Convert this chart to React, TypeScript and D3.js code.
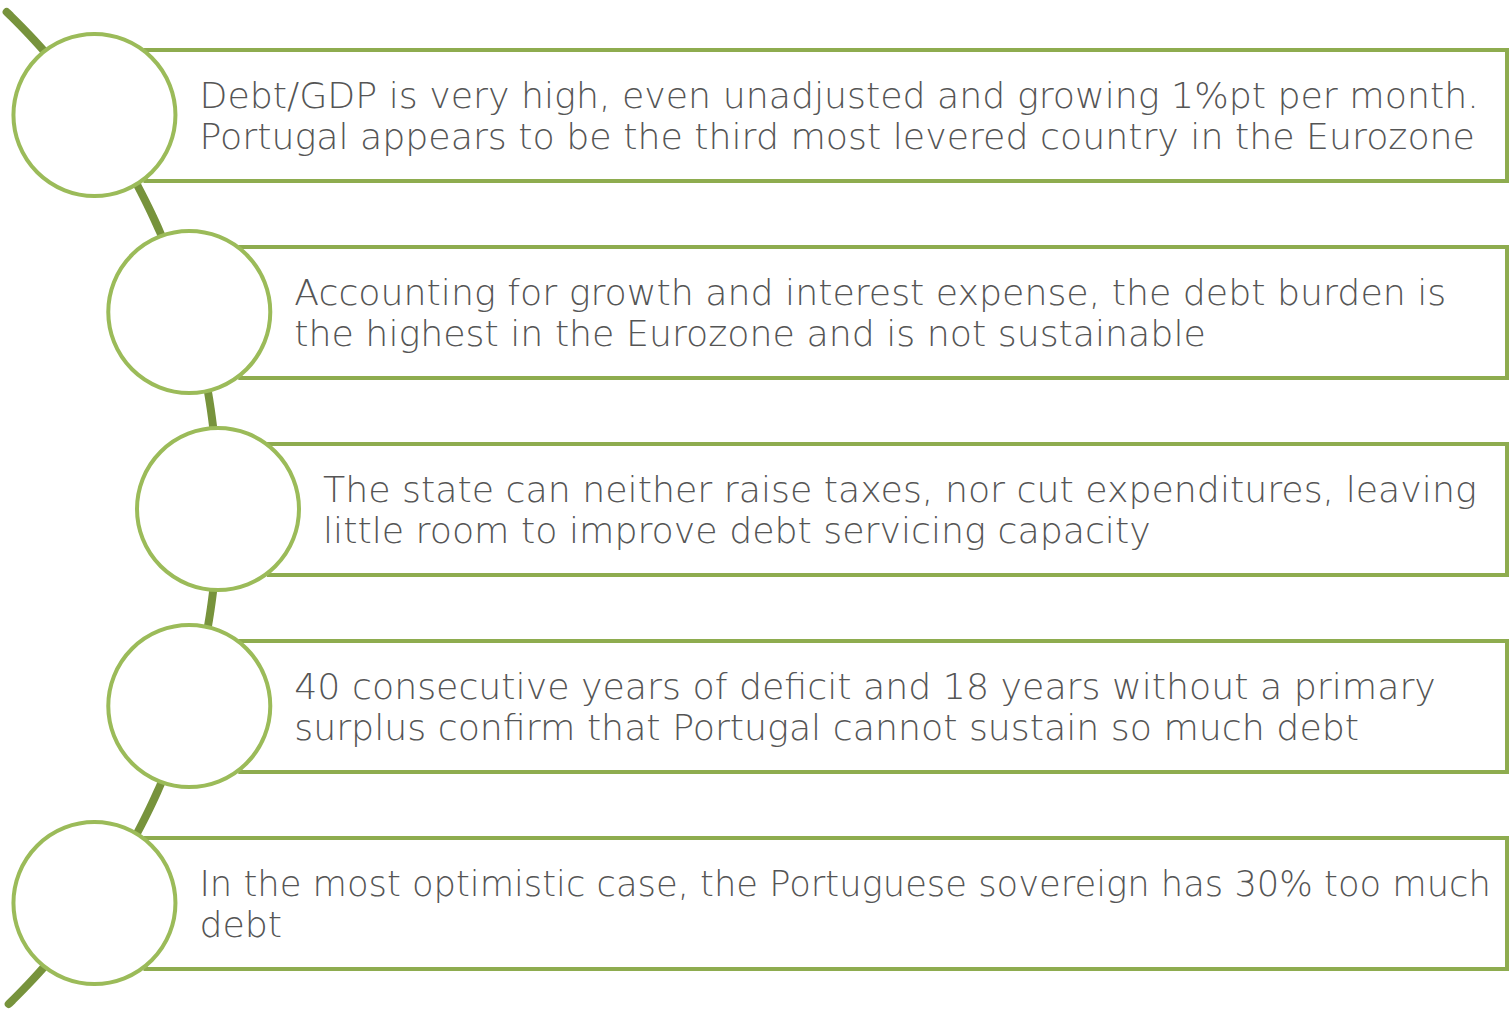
import * as React from 'react';
import * as d3 from 'd3';

// one entry per row, each row is a list of text lines
const rowLines = [
	['Debt/GDP is very high, even unadjusted and growing 1%pt per month.', 'Portugal appears to be the third most levered country in the Eurozone'],
	['Accounting for growth and interest expense, the debt burden is', 'the highest in the Eurozone and is not sustainable'],
	['The state can neither raise taxes, nor cut expenditures, leaving', 'little room to improve debt servicing capacity'],
	['40 consecutive years of deficit and 18 years without a primary', 'surplus confirm that Portugal cannot sustain so much debt'],
	['In the most optimistic case, the Portuguese sovereign has 30% too much', 'debt'],
];
const rowIds = ['r1', 'r2', 'r3', 'r4', 'r5'];

const W = 1510;
const H = 1009;
const baseFont = 36.3;

// shrink a line a little if it would run past the right edge
const FitText = ({ x, y, maxW, children }) => {
	const ref = React.useRef<SVGTextElement>(null);
	const [size, setSize] = React.useState(baseFont);
	React.useLayoutEffect(() => {
		const w = ref.current ? ref.current.getComputedTextLength() : 0;
		if (w > maxW) setSize(Math.floor(((baseFont * maxW) / w) * 10) / 10);
	}, [maxW]);
	return (
		<text
			ref={ref}
			x={x}
			y={y}
			fill='#555'
			fontSize={size}
			fontFamily='DejaVu Sans'
			style={{ fontWeight: 300 }}
		>
			{children}
		</text>
	);
};

const Row = ({ cx, cy, lines }) => {
	const r = 81;
	const boxLeft = cx + 51;
	const boxH = 131;
	const tx = cx + 105;
	return (
		<g>
			<rect
				x={boxLeft}
				y={cy - 65}
				width={W - 3 - boxLeft}
				height={boxH}
				fill='#fff'
				stroke='#8eac4f'
				strokeWidth={4}
			/>
			<circle cx={cx} cy={cy} r={r} fill='#fff' stroke='#9bbb59' strokeWidth={4} />
			{lines.map((t, j) => (
				<FitText key={j} x={tx} y={cy - 7 + j * 41} maxW={W - 16 - tx}>
					{t}
				</FitText>
			))}
		</g>
	);
};

export default function App() {
	// the rows sit on a big arc whose centre is far to the left
	const y = d3.scalePoint().domain(rowIds).range([115, 903]);
	const arcCy = 509;
	const arcCx = -472;
	const R = 690;
	const xOnArc = (yy: number) => arcCx + Math.sqrt(R * R - (yy - arcCy) * (yy - arcCy));

	const spine = d3
		.line<number>()
		.x(d => xOnArc(d))
		.y(d => d)
		.curve(d3.curveBasis)(d3.range(12, 1006, 4));

	return (
		<svg width={W} height={H} style={{ position: 'absolute', left: 0, top: 0 }}>
			<path d={spine} fill='none' stroke='#77933c' strokeWidth={8} strokeLinecap='round' />
			{rowIds.map((id, i) => {
				const cy = y(id);
				return <Row key={id} cx={xOnArc(cy)} cy={cy} lines={rowLines[i]} />;
			})}
		</svg>
	);
}
